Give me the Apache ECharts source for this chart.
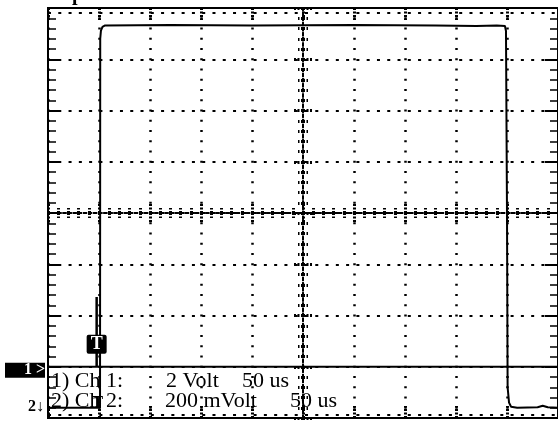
<!DOCTYPE html>
<html><head><meta charset="utf-8">
<script src="https://cdn.jsdelivr.net/npm/echarts@6/dist/echarts.min.js"></script>
<style>html,body{margin:0;padding:0;background:#fff}#c{width:558px;height:421px}</style>
</head><body><div id="c"></div>
<script>
// ---- data (time in microseconds, 50 us/div; amplitude in screen divisions) ----
const timeRange = [0, 500];
const timeStep = 50;
const divRange = [-4, 4];
const ch1Level = -3.0;
const ch1Trace = [[0, -3.0], [500, -3.0]];
const ch2Trace = [
  [0, -3.80], [51.0, -3.80], [51.2, 3.40], [51.9, 3.56], [53.4, 3.63], [56, 3.66],
  [120, 3.67], [200, 3.66], [300, 3.67], [380, 3.66], [420, 3.65], [440, 3.66],
  [448, 3.65], [449.0, 3.55], [450.0, 0], [450.6, -3.40], [452.0, -3.70], [454.0, -3.78],
  [460, -3.80], [480, -3.79], [485, -3.76], [490, -3.79], [500, -3.80]
];
const ch2Level = -3.80;
const triggerStem = [[47.7, -1.64], [47.7, -3.0]];
const triggerMark = [47.7, -2.56];
const ch2TrigMark = [48.5, -3.70];
const edgeRows = [7.907, 0.064];
const ch1Info = ['1) Ch 1:', '2 Volt', '50 us'];
const ch2Info = ['2) Ch 2:', '200 mVolt', '50 us'];
const ch1Tag = '1 >';
const ch2Tag = '2\u2193';

const chart = echarts.init(document.getElementById('c'), null, {renderer: 'canvas'});
const rect = {left: 48, top: 8, width: 514, height: 410};
const K = '#000';
const off = {show: false};
function edgeX(pos) {
  return {gridIndex: 1, type: 'value', min: 0, max: 10, interval: 1, position: pos,
    axisLine: {show: false, onZero: false}, axisLabel: off, splitLine: off,
    axisTick: {show: true, inside: true, length: 12, lineStyle: {color: K, width: 3, type: [2, 1.5]}}};
}
function edgeY(pos) {
  return {gridIndex: 1, type: 'value', min: 0, max: 8, interval: 1, position: pos,
    axisLine: {show: false, onZero: false}, axisLabel: off, splitLine: off,
    axisTick: {show: true, inside: true, length: 13, lineStyle: {color: K, width: 2}},
    minorTick: {show: true, splitNumber: 5, length: 8, lineStyle: {color: K, width: 1.5}}};
}
function centerAxis(pos, range) {
  return {gridIndex: 2, type: 'value', min: -range, max: range, interval: 1, position: pos,
    axisLine: {show: true, onZero: true, lineStyle: {color: K, width: 2, type: [2.5, 2.6]}},
    axisLabel: off, splitLine: off,
    axisTick: {show: true, inside: true, length: 10, lineStyle: {color: K, width: 3, type: [2, 1.5]}},
    minorTick: {show: true, splitNumber: 5, length: 5, lineStyle: {color: K, width: 3, type: [2, 1.5]}}};
}

const option = {
  animation: false,
  backgroundColor: '#fff',
  grid: [
    Object.assign({show: true, borderColor: K, borderWidth: 2, backgroundColor: 'transparent'}, rect),
    Object.assign({}, rect),
    Object.assign({}, rect)
  ],
  xAxis: [
    {gridIndex: 0, type: 'value', min: timeRange[0], max: timeRange[1], interval: timeStep,
      axisLine: {show: false, onZero: false}, axisTick: off, axisLabel: off,
      splitLine: {show: true, lineStyle: {color: K, width: 2.5, type: [2, 8.25], dashOffset: 1}}},
    edgeX('top'), edgeX('bottom'),
    centerAxis('bottom', 5), centerAxis('top', 5)
  ],
  yAxis: [
    {gridIndex: 0, type: 'value', min: divRange[0], max: divRange[1], interval: 1,
      axisLine: {show: false, onZero: false}, axisTick: off, axisLabel: off,
      splitLine: {show: true, lineStyle: {color: K, width: 2, type: [3, 7.28], dashOffset: 0}}},
    edgeY('left'), edgeY('right'),
    centerAxis('left', 4), centerAxis('right', 4)
  ],
  series: [
    {type: 'line', xAxisIndex: 0, yAxisIndex: 0, data: ch1Trace, showSymbol: false, silent: true,
      lineStyle: {color: K, width: 2}, z: 5},
    {type: 'line', xAxisIndex: 0, yAxisIndex: 0, data: ch2Trace, showSymbol: false, silent: true,
      lineStyle: {color: K, width: 2}, z: 5},
    {type: 'line', xAxisIndex: 0, yAxisIndex: 0, data: triggerStem, showSymbol: false, silent: true,
      lineStyle: {color: K, width: 2.5}, z: 6},
    {type: 'line', xAxisIndex: 1, yAxisIndex: 1, data: [], showSymbol: false, silent: true,
      markLine: {silent: true, symbol: 'none', label: off,
        lineStyle: {color: K, width: 2, type: [3, 7.28], dashOffset: 0},
        data: edgeRows.map(v => ({yAxis: v}))}}
  ]
};
chart.setOption(option);

const p1 = chart.convertToPixel({gridIndex: 0}, [0, ch1Level]);
const p2 = chart.convertToPixel({gridIndex: 0}, [0, ch2Level]);
const pt = chart.convertToPixel({gridIndex: 0}, triggerMark);
const pt2 = chart.convertToPixel({gridIndex: 0}, ch2TrigMark);
const font = 'Liberation Serif';
function txt(s, x, y) {
  return {type: 'text', x: x, y: y, silent: true, z: 20,
    style: {text: s, fill: K, font: '22px "' + font + '"', textVerticalAlign: 'middle'}};
}
chart.setOption({graphic: [
  {type: 'rect', shape: {x: pt[0] - 10, y: pt[1] - 9.5, width: 20, height: 19, r: 2}, style: {fill: K}, z: 20, silent: true},
  {type: 'text', x: pt[0], y: pt[1], z: 21, silent: true,
    style: {text: 'T', fill: '#fff', font: 'bold 18px "' + font + '"', textAlign: 'center', textVerticalAlign: 'middle'}},
  {type: 'text', x: pt2[0], y: pt2[1], z: 21, silent: true,
    style: {text: 'T', fill: K, font: 'bold 17px "' + font + '"', textAlign: 'center', textVerticalAlign: 'middle'}},
  {type: 'rect', shape: {x: 5, y: p1[1] - 4, width: 40, height: 15}, style: {fill: K}, z: 20, silent: true},
  {type: 'text', x: 24, y: p1[1] + 3.5, z: 21, silent: true,
    style: {text: ch1Tag, fill: '#fff', font: 'bold 16px "' + font + '"', textVerticalAlign: 'middle'}},
  {type: 'text', x: 28, y: p2[1] - 1, z: 21, silent: true,
    style: {text: ch2Tag, fill: K, font: 'bold 16px "' + font + '"', textVerticalAlign: 'middle'}},
  {type: 'text', x: 72, y: 5, z: 21, silent: true,
    style: {text: 'p', fill: K, font: 'bold 20px "' + font + '"', textVerticalAlign: 'bottom'}},
  txt(ch1Info[0], 51, 381.5), txt(ch1Info[1], 166, 381.5), txt(ch1Info[2], 242, 381.5),
  txt(ch2Info[0], 51, 401.5), txt(ch2Info[1], 165, 401.5), txt(ch2Info[2], 290, 401.5)
]});
</script></body></html>
